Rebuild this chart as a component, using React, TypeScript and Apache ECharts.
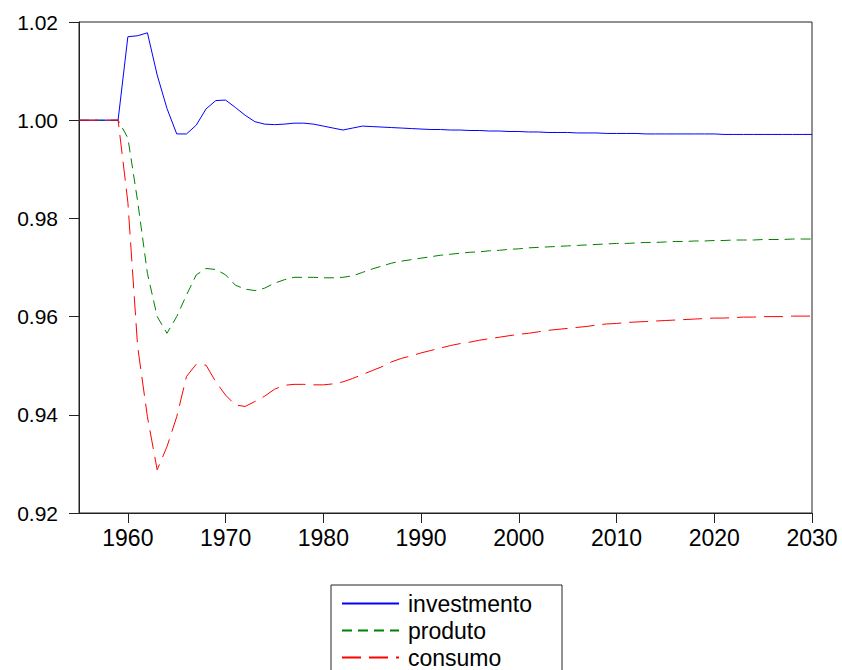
import React, { useEffect, useRef } from "react";
import * as echarts from "echarts";

const years: number[] = [];
for (let y = 1955; y <= 2030; y++) years.push(y);

const investmento = [
  1.0, 1.0, 1.0, 1.0, 1.0,
  1.017, 1.0172, 1.0178, 1.0092, 1.0024,
  0.9972, 0.9972, 0.999, 1.0023, 1.004,
  1.0041, 1.0026, 1.001, 0.9997, 0.9992,
  0.9991, 0.9992, 0.9994, 0.9994, 0.9992,
  0.9988, 0.9984, 0.998, 0.9984, 0.9988,
  0.9987, 0.9986, 0.9985, 0.9984, 0.9983,
  0.9982, 0.9981, 0.9981, 0.998, 0.998,
  0.9979, 0.9979, 0.9978, 0.9978, 0.9977,
  0.9977, 0.9976, 0.9976, 0.9975, 0.9975,
  0.9975, 0.9974, 0.9974, 0.9974, 0.9973,
  0.9973, 0.9973, 0.9973, 0.9972, 0.9972,
  0.9972, 0.9972, 0.9972, 0.9972, 0.9972,
  0.9972, 0.9971, 0.9971, 0.9971, 0.9971,
  0.9971, 0.9971, 0.9971, 0.9971, 0.9971,
  0.9971,
];

const produto = [
  1.0, 1.0, 1.0, 1.0, 1.0,
  0.9964, 0.9835, 0.9688, 0.96, 0.9566,
  0.96, 0.9644, 0.9685, 0.9698, 0.9696,
  0.9685, 0.9664, 0.9656, 0.9653, 0.9658,
  0.9668, 0.9675, 0.968, 0.968, 0.968,
  0.9679, 0.9679, 0.968, 0.9683, 0.969,
  0.9697, 0.9703, 0.9709, 0.9713, 0.9716,
  0.9719, 0.9722, 0.9725, 0.9727, 0.9729,
  0.9731, 0.9732, 0.9734, 0.9735, 0.9737,
  0.9738, 0.974, 0.9741, 0.9742, 0.9743,
  0.9744, 0.9745, 0.9746, 0.9747, 0.9748,
  0.9749, 0.9749, 0.975, 0.9751, 0.9751,
  0.9752, 0.9753, 0.9753, 0.9754, 0.9754,
  0.9755, 0.9755, 0.9756, 0.9756, 0.9756,
  0.9757, 0.9757, 0.9757, 0.9758, 0.9758,
  0.9758,
];

const consumo = [
  1.0, 1.0, 1.0, 1.0, 1.0,
  0.9833, 0.9539, 0.9396, 0.9288, 0.9335,
  0.9396, 0.9478, 0.9503, 0.9501, 0.9467,
  0.944, 0.942, 0.9417, 0.9427, 0.9438,
  0.9452, 0.946, 0.9462, 0.9462, 0.9461,
  0.9461, 0.9463, 0.9467, 0.9474, 0.9482,
  0.949, 0.9498, 0.9508, 0.9515, 0.952,
  0.9526, 0.9531, 0.9536, 0.9541, 0.9545,
  0.9548, 0.9552, 0.9555, 0.9558, 0.9561,
  0.9564, 0.9566, 0.9569, 0.9572, 0.9574,
  0.9576, 0.9578, 0.958, 0.9583, 0.9585,
  0.9586, 0.9588, 0.9589, 0.959, 0.9591,
  0.9592, 0.9593, 0.9594, 0.9595, 0.9596,
  0.9597, 0.9597, 0.9598, 0.9599, 0.9599,
  0.96, 0.96, 0.96, 0.9601, 0.9601,
  0.9601,
];

const xTicks = [1960, 1970, 1980, 1990, 2000, 2010, 2020, 2030];
const seriesNames = ["investmento", "produto", "consumo"];
const seriesColors = ["#0000ff", "#008000", "#ff0000"];
const seriesDash: any[] = ["solid", [10, 6], [19, 8]];
const seriesValues = [investmento, produto, consumo];

const FONT = "'Liberation Sans', Arial, sans-serif";

export default function App() {
  const ref = useRef<HTMLDivElement>(null);
  useEffect(() => {
    if (!ref.current) return;
    const chart = echarts.init(ref.current, undefined, { renderer: "svg" });
    const pairs = (vals: number[]) => years.map((y, i) => [y, vals[i]]);
    chart.setOption({
      animation: false,
      backgroundColor: "#fff",
      textStyle: { fontFamily: FONT },
      grid: {
        left: 79,
        right: 30,
        top: 22,
        bottom: 157,
        show: true,
        borderColor: "#222",
        borderWidth: 1,
        backgroundColor: "transparent",
      },
      xAxis: {
        type: "value",
        min: 1955,
        max: 2030,
        axisLine: { lineStyle: { color: "#222", width: 1 } },
        axisTick: {
          show: true,
          inside: false,
          length: 10,
          customValues: xTicks,
          lineStyle: { color: "#222" },
        },
        axisLabel: {
          customValues: xTicks,
          color: "#000",
          fontSize: 23,
          fontFamily: FONT,
          margin: 13,
          formatter: (v: number) => String(v),
        },
        splitLine: { show: false },
      },
      yAxis: {
        type: "value",
        min: 0.92,
        max: 1.02,
        interval: 0.02,
        axisLine: { show: true, lineStyle: { color: "#222", width: 1 } },
        axisTick: { show: true, inside: false, length: 10, lineStyle: { color: "#222" } },
        axisLabel: {
          color: "#000",
          fontSize: 21,
          fontFamily: FONT,
          margin: 21,
          formatter: (v: number) => v.toFixed(2),
        },
        splitLine: { show: false },
      },
      legend: {
        orient: "vertical",
        left: 331,
        top: 585,
        height: 120,
        data: seriesNames,
        itemWidth: 57,
        itemHeight: 14,
        itemGap: 0,
        padding: [5, 30, 5, 10],
        borderColor: "#222",
        borderWidth: 1,
        backgroundColor: "#fff",
        itemStyle: { opacity: 0 },
        textStyle: {
          fontSize: 23,
          color: "#000",
          fontFamily: FONT,
          lineHeight: 27,
          padding: [0, 0, 0, 4],
        },
      },
      series: seriesNames.map((name, i) => ({
        name,
        type: "line",
        data: pairs(seriesValues[i]),
        showSymbol: false,
        symbol: "none",
        lineStyle: { color: seriesColors[i], width: 1, type: seriesDash[i] },
        itemStyle: { color: seriesColors[i] },
        z: [3, 2, 4][i],
      })),
    });
    return () => chart.dispose();
  }, []);
  return (
    <div
      ref={ref}
      style={{ position: "absolute", left: 0, top: 0, width: 842, height: 670, background: "#fff" }}
    />
  );
}
